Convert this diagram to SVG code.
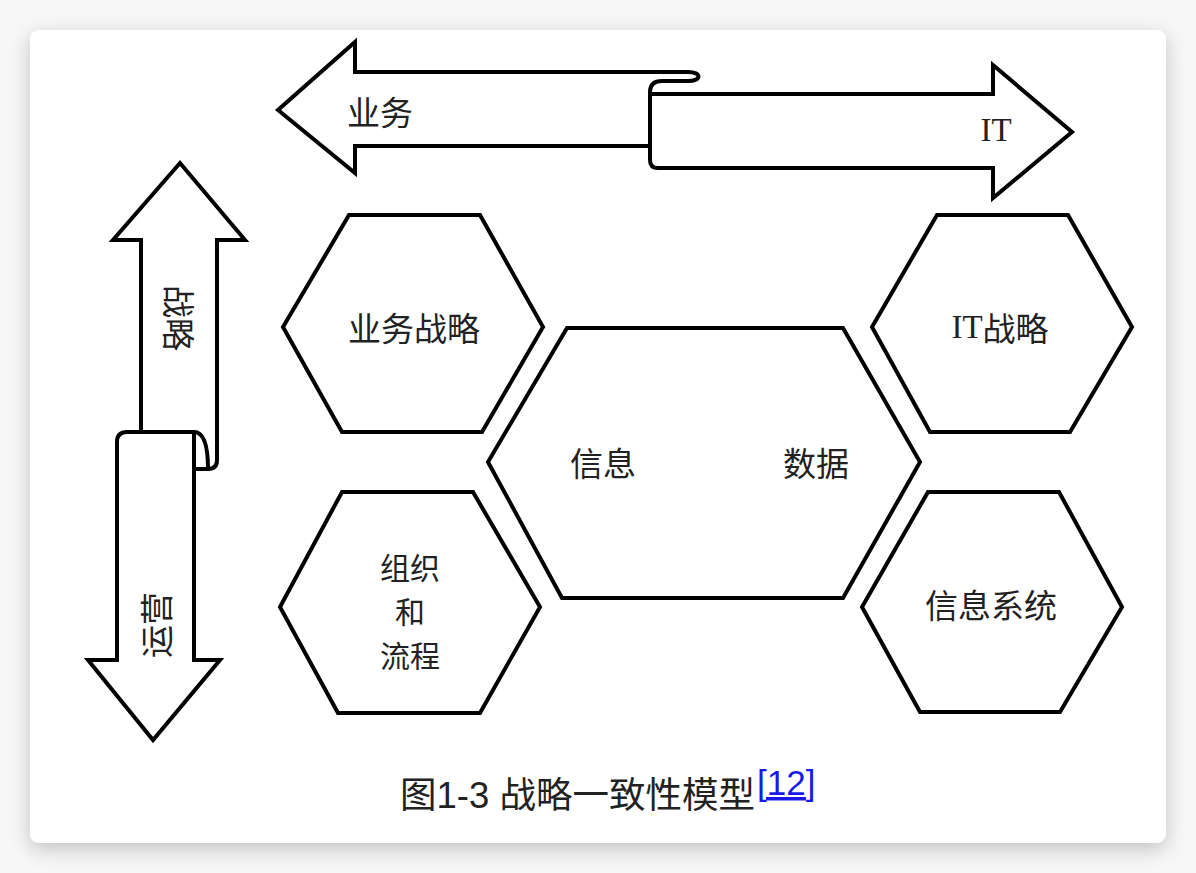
<svg xmlns="http://www.w3.org/2000/svg" width="1196" height="873" viewBox="0 0 1196 873">
  <defs>
    <filter id="shadow" x="-10%" y="-10%" width="120%" height="120%">
      <feDropShadow dx="0" dy="6" stdDeviation="10" flood-color="#000" flood-opacity="0.22"/>
    </filter>
    <style>
      .hex { fill: #fff; stroke: #000; stroke-width: 4; stroke-linejoin: miter; }
      .arr { fill: none; stroke: #000; stroke-width: 4; stroke-linejoin: miter; stroke-linecap: round; }
      .lbl { font-family: "Noto Sans CJK SC", "Liberation Sans", sans-serif; font-size: 33px; fill: #222; text-anchor: middle; dominant-baseline: central; }
      .stk { font-size: 30px; }
      .lat { font-family: "Liberation Serif", "Noto Sans CJK SC", serif; }
      .cap { font-family: "Liberation Sans", "Noto Sans CJK SC", sans-serif; font-size: 36.5px; fill: #222; }
      .ref { font-family: "Liberation Sans", sans-serif; font-size: 35px; fill: #1a1ae6; text-decoration: underline; }
    </style>
  </defs>
  <rect x="0" y="0" width="1196" height="873" fill="#f7f7f7"/>
  <rect x="30" y="30" width="1136" height="813" rx="9" fill="#fff" filter="url(#shadow)"/>

  <g id="connectors">
    <g id="arrow-business">
      <path class="arr" d="M688,72 L355,72 L355,42 L278,110 L355,173 L355,146 L650,146"/>
      <text class="lbl" x="380" y="111">业务</text>
    </g>
    <g id="arrow-it">
      <path class="arr" d="M688,72 C702,72 702,81 688,81 L662,81 C653,81 650,86 650,92 L650,160 Q650,168 658,168 L993,168 L993,198 L1072,132 L993,65 L993,94 L652,94"/>
      <text class="lbl lat" x="996" y="130">IT</text>
    </g>
    <g id="arrow-strategy">
      <path class="arr" d="M141,432 L141,240 L113,240 L180,163 L245,240 L217,240 L217,460 Q217,469 208,469 L194,469"/>
      <text class="lbl" transform="translate(180,318) rotate(90)" x="0" y="0">战略</text>
    </g>
    <g id="arrow-operation">
      <path class="arr" d="M194,432 C204,432 208,445 208,469"/>
      <path class="arr" d="M194,432 L127,432 Q117,432 117,442 L117,660 L88,660 L153,740 L220,660 L194,660 L194,432"/>
      <text class="lbl" transform="translate(155,625) rotate(-90)" x="0" y="0">运营</text>
    </g>
  </g>

  <g id="node-business-strategy">
    <polygon class="hex" points="349,215 480,215 543,327 482,432 342,432 283,327"/>
    <text class="lbl" x="414" y="327">业务战略</text>
  </g>
  <g id="node-it-strategy">
    <polygon class="hex" points="937,215 1068,215 1132,327 1070,432 930,432 872,327"/>
    <text class="lbl" x="1000" y="327"><tspan class="lat">IT</tspan>战略</text>
  </g>
  <g id="node-center">
    <polygon class="hex" points="567,328 843,328 920,462 843,598 562,598 488,462"/>
    <text class="lbl" x="603" y="462">信息</text>
    <text class="lbl" x="816" y="462">数据</text>
  </g>
  <g id="node-organization">
    <polygon class="hex" points="342,492 473,492 540,607 480,713 338,713 280,607"/>
    <text class="lbl stk" x="410" y="566">组织</text>
    <text class="lbl stk" x="410" y="610">和</text>
    <text class="lbl stk" x="410" y="654">流程</text>
  </g>
  <g id="node-is">
    <polygon class="hex" points="928,492 1059,492 1122,607 1060,712 920,712 862,607"/>
    <text class="lbl" x="991" y="604">信息系统</text>
  </g>

  <g id="caption">
    <text class="cap" x="400" y="808">图1-3 战略一致性模型</text>
    <text class="ref" x="757" y="795">[12]</text>
  </g>
</svg>
